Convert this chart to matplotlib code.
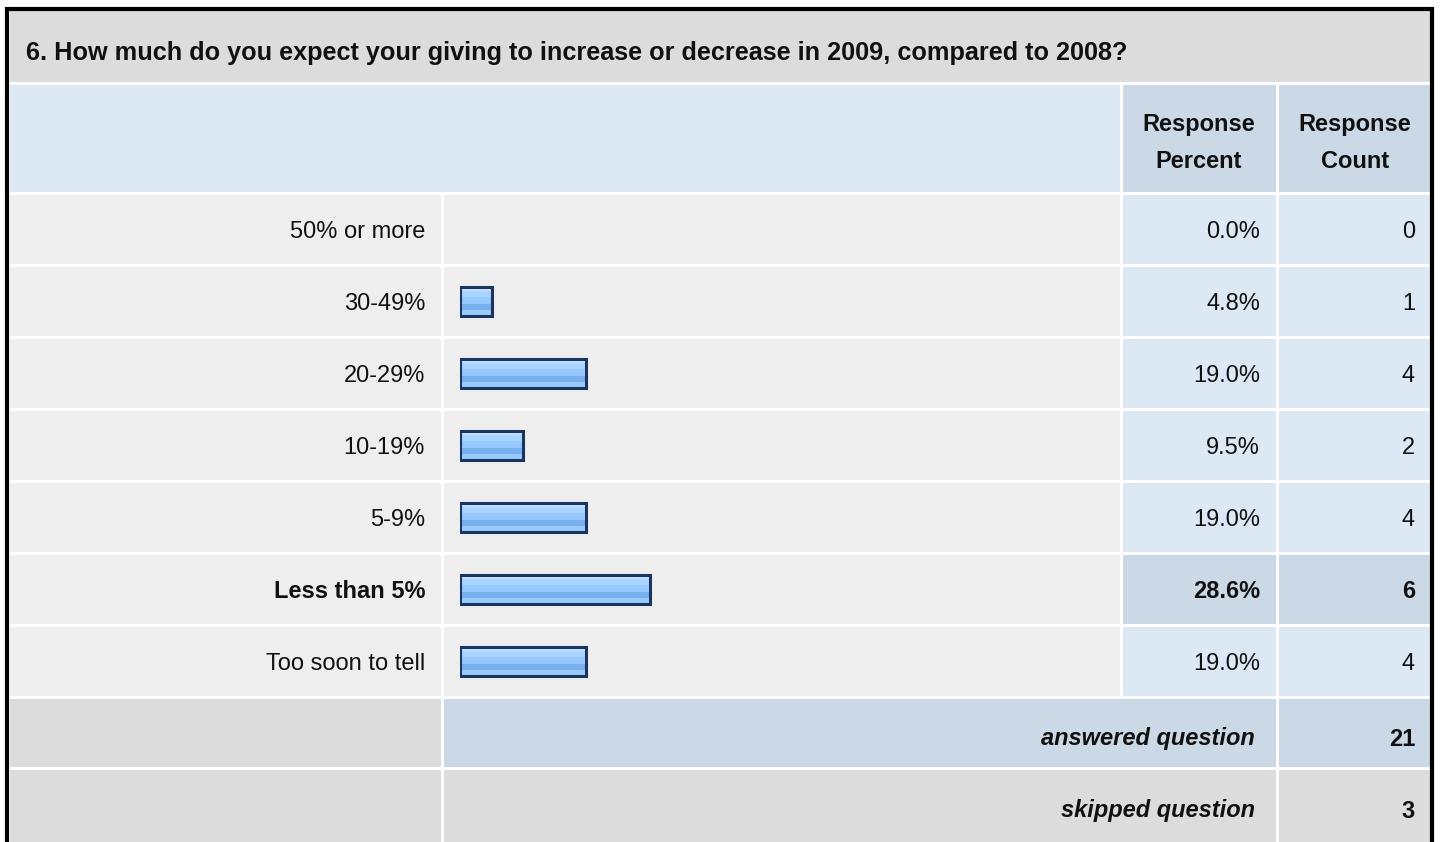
import matplotlib.pyplot as plt
from matplotlib.patches import Rectangle

plt.rcParams['font.family'] = ['Liberation Sans', 'DejaVu Sans']

question = '6. How much do you expect your giving to increase or decrease in 2009, compared to 2008?'
answers = ['50% or more', '30-49%', '20-29%', '10-19%', '5-9%', 'Less than 5%', 'Too soon to tell']
percents = [0.0, 4.8, 19.0, 9.5, 19.0, 28.6, 19.0]
counts = [0, 1, 4, 2, 4, 6, 4]
answered = 21
skipped = 3

W, H = 1440, 842
GREY = '#dcdcdc'
CELL = '#eeeeee'
BLUE = '#dde8f5'
BLUE_DK = '#cbd8e6'
INK = '#111111'
FS = 17

fig = plt.figure(figsize=(W / 100, H / 100), dpi=100)
ax = fig.add_axes([0, 0, 1, 1])
ax.set_xlim(0, W)
ax.set_ylim(H, 0)
ax.axis('off')

def cell(x0, x1, y0, y1, color):
    ax.add_patch(Rectangle((x0, y0), x1 - x0, y1 - y0, facecolor=color, edgecolor='none'))

# column edges
c_lab = (10, 441)
c_bar = (444, 1120)
c_pct = (1123, 1276)
c_cnt = (1279, 1430)

# title row
cell(10, 1430, 10, 82, GREY)
ax.text(26, 53, question, fontsize=18.2, fontweight='bold', va='center', ha='left', color=INK)

# header row
cell(10, 1120, 85, 192, BLUE)
cell(*c_pct, 85, 192, BLUE_DK)
cell(*c_cnt, 85, 192, BLUE_DK)
for xc, words in [(1199, ('Response', 'Percent')), (1355, ('Response', 'Count'))]:
    ax.text(xc, 124, words[0], fontsize=FS, fontweight='bold', ha='center', va='center', color=INK)
    ax.text(xc, 162, words[1], fontsize=FS, fontweight='bold', ha='center', va='center', color=INK)

# data rows
top0, pitch = 195, 72
hi = counts.index(max(counts))
for i, (lab, p, c) in enumerate(zip(answers, percents, counts)):
    y0 = top0 + pitch * i
    y1 = y0 + 69
    yc = y0 + 37
    bold = 'bold' if i == hi else 'normal'
    cell(*c_lab, y0, y1, CELL)
    cell(*c_bar, y0, y1, CELL)
    cell(*c_pct, y0, y1, BLUE_DK if i == hi else BLUE)
    cell(*c_cnt, y0, y1, BLUE_DK if i == hi else BLUE)
    ax.text(425, yc, lab, fontsize=FS, fontweight=bold, ha='right', va='center', color=INK)
    ax.text(1260, yc, f'{p:.1f}%', fontsize=FS, fontweight=bold, ha='right', va='center', color=INK)
    ax.text(1415, yc, str(c), fontsize=FS, fontweight=bold, ha='right', va='center', color=INK)

# summary rows
cell(*c_lab, 699, 767, GREY)
cell(444, 1276, 699, 767, BLUE_DK)
cell(*c_cnt, 699, 767, BLUE_DK)
ax.text(1255, 739, 'answered question', fontsize=FS, fontweight='bold', style='italic',
        ha='right', va='center', color=INK)
ax.text(1415, 739, str(answered), fontsize=FS, fontweight='bold', ha='right', va='center', color=INK)

cell(*c_lab, 770, 845, GREY)
cell(444, 1276, 770, 845, GREY)
cell(*c_cnt, 770, 845, GREY)
ax.text(1255, 811, 'skipped question', fontsize=FS, fontweight='bold', style='italic',
        ha='right', va='center', color=INK)
ax.text(1415, 811, str(skipped), fontsize=FS, fontweight='bold', ha='right', va='center', color=INK)

# outer border
ax.plot([6.5, 6.5, 1432, 1432], [H + 5, 8.5, 8.5, H + 5], color='black', lw=3, solid_joinstyle='miter')

# bars
bx0, bx100 = 460, 1125
by0 = top0 - 2
bax = fig.add_axes([bx0 / W, 1 - (by0 + pitch * len(answers)) / H,
                    (bx100 - bx0) / W, pitch * len(answers) / H])
bax.set_xlim(0, 100)
bax.set_ylim(len(answers) - 0.5, -0.5)
bax.axis('off')
bax.patch.set_alpha(0)

ypos = [i for i, p in enumerate(percents) if p > 0]
vals = [p for p in percents if p > 0]
bh = 29 / pitch
stripes = [(0.00, 0.15, '#c4e1ff'), (0.15, 0.35, '#a9d3ff'), (0.35, 0.62, '#95c9ff'),
           (0.62, 0.80, '#78b0f0'), (0.80, 1.00, '#98cbfc')]
for t, b, col in stripes:
    off = bh * (-0.5 + (t + b) / 2)
    bax.barh([y + off for y in ypos], vals, height=bh * (b - t), color=col, edgecolor='none')
bax.barh(ypos, vals, height=bh, facecolor='none', edgecolor='#1c355e', linewidth=2.2)

fig.savefig('out.png', dpi=100, facecolor='white')
